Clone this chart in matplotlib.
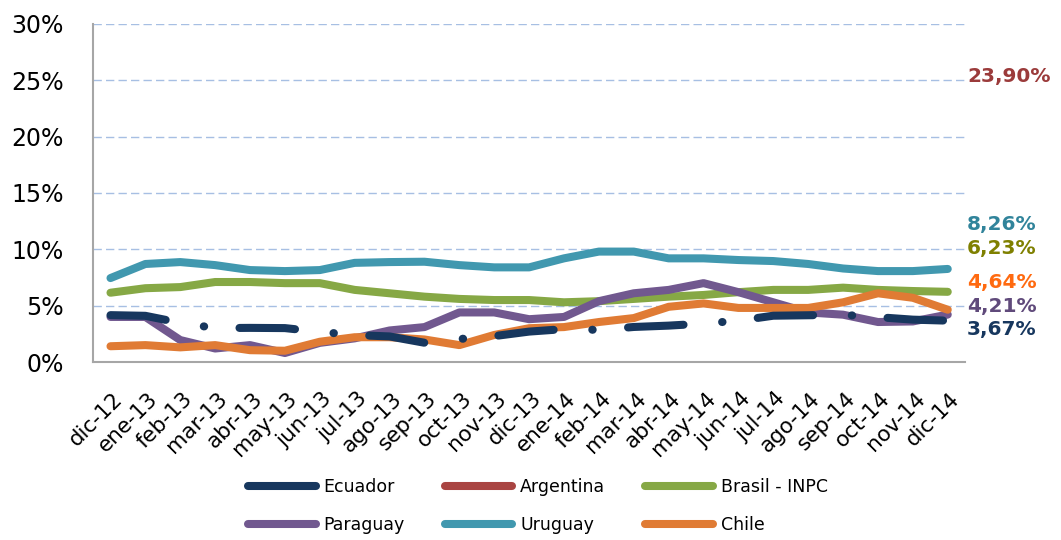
import numpy as np
import matplotlib
matplotlib.use('Agg')
from matplotlib import pyplot as plt
from matplotlib.transforms import ScaledTranslation

meses = ['dic-12', 'ene-13', 'feb-13', 'mar-13', 'abr-13', 'may-13', 'jun-13',
         'jul-13', 'ago-13', 'sep-13', 'oct-13', 'nov-13', 'dic-13', 'ene-14',
         'feb-14', 'mar-14', 'abr-14', 'may-14', 'jun-14', 'jul-14', 'ago-14',
         'sep-14', 'oct-14', 'nov-14', 'dic-14']

ecuador = [4.16, 4.10, 3.48, 3.01, 3.03, 3.01, 2.68, 2.39, 2.27, 1.71, 2.04, 2.30, 2.70,
           2.92, 2.85, 3.11, 3.23, 3.41, 3.67, 4.11, 4.15, 4.19, 3.98, 3.76, 3.67]
argentina = [np.nan] * 25  # sin datos mensuales en el grafico
brasil = [6.15, 6.55, 6.65, 7.10, 7.10, 7.00, 7.00, 6.40, 6.10, 5.80, 5.60, 5.50, 5.50,
          5.30, 5.40, 5.60, 5.80, 5.95, 6.20, 6.40, 6.40, 6.60, 6.40, 6.30, 6.23]
paraguay = [4.00, 4.00, 1.95, 1.20, 1.50, 0.80, 1.70, 2.10, 2.80, 3.10, 4.40, 4.40, 3.80,
            4.00, 5.40, 6.10, 6.40, 7.00, 6.20, 5.30, 4.40, 4.20, 3.55, 3.60, 4.21]
uruguay = [7.45, 8.70, 8.87, 8.60, 8.16, 8.07, 8.16, 8.80, 8.87, 8.90, 8.60, 8.40, 8.40,
           9.20, 9.80, 9.80, 9.20, 9.20, 9.05, 8.96, 8.70, 8.30, 8.07, 8.07, 8.26]
chile = [1.40, 1.50, 1.30, 1.50, 1.05, 1.00, 1.80, 2.20, 2.20, 2.00, 1.50, 2.40, 3.00,
         3.10, 3.55, 3.90, 4.90, 5.20, 4.80, 4.80, 4.80, 5.30, 6.10, 5.70, 4.64]

etiquetas = ['3,67%', '23,90%', '6,23%', '4,21%', '8,26%', '4,64%']
etiqueta_y = [2.85, 25.3, 10.1, 4.9, 12.2, 7.1]

c_ecu = '#17375E'
c_arg = '#A94442'
c_bra = '#86A845'
c_par = '#71588F'
c_uru = '#4198AF'
c_chi = '#E07B34'
c_txt = ['#17375E', '#9B3B3B', '#7F8000', '#604A7B', '#31849B', '#FF6A10']

plt.rcParams['font.family'] = ['DejaVu Sans']

fig = plt.figure(figsize=(10.61, 5.4), dpi=100)
ax = fig.add_axes([0.0877, 0.3296, 0.822, 0.626])
x = np.arange(len(meses))
lw = 5.8

l_ecu, = ax.plot(x, ecuador, color=c_ecu, lw=lw, dashes=[6.9, 4.8, 0.05, 4.4],
                 dash_capstyle='round', solid_capstyle='round', label='Ecuador', zorder=3)
l_arg, = ax.plot(x, argentina, color=c_arg, lw=lw, solid_capstyle='round', label='Argentina')
l_bra, = ax.plot(x, brasil, color=c_bra, lw=lw, solid_capstyle='round', label='Brasil - INPC')
l_par, = ax.plot(x, paraguay, color=c_par, lw=lw, solid_capstyle='round', label='Paraguay')
l_uru, = ax.plot(x, uruguay, color=c_uru, lw=lw, solid_capstyle='round', label='Uruguay')
l_chi, = ax.plot(x, chile, color=c_chi, lw=lw, solid_capstyle='round', label='Chile')

# etiquetas del ultimo valor a la derecha
for txt, yv, col in zip(etiquetas, etiqueta_y, c_txt):
    ax.text(24.55, yv, txt, color=col, fontsize=14.5, fontweight='bold',
            va='center', ha='left', clip_on=False)

ax.set_xlim(-0.5, 24.5)
ax.set_ylim(0, 30)
ax.set_yticks(range(0, 31, 5))
ax.set_yticklabels([f'{v}%' for v in range(0, 31, 5)], fontsize=17)
ax.set_xticks(x)
ax.set_xticklabels(meses, rotation=45, ha='right', va='top', rotation_mode='anchor', fontsize=15.5)
ax.tick_params(axis='y', length=0, pad=21)
ax.tick_params(axis='x', length=0, pad=19)
off = ScaledTranslation(2 / 100, 0, fig.dpi_scale_trans)
for lab in ax.get_xticklabels():
    lab.set_transform(lab.get_transform() + off)

ax.yaxis.grid(True, color='#A7BFE3', linestyle=(0, (6, 3)), lw=1)
ax.set_axisbelow(True)
for s in ['top', 'right']:
    ax.spines[s].set_visible(False)
for s in ['left', 'bottom']:
    ax.spines[s].set_color('#A6A6A6')
    ax.spines[s].set_linewidth(1.5)

handles = [l_ecu, l_par, l_arg, l_uru, l_bra, l_chi]
leg_lines = []
for h in handles:
    ln = plt.Line2D([], [], color=h.get_color(), lw=lw, solid_capstyle='round')
    leg_lines.append(ln)
fig.legend(leg_lines, [h.get_label() for h in handles], ncol=3,
           loc='center', bbox_to_anchor=(0.507, 0.063), frameon=False,
           fontsize=12.5, handlelength=3.9, handletextpad=0.45, columnspacing=2.3,
           labelspacing=1.15)

fig.savefig('out.png', dpi=100)
